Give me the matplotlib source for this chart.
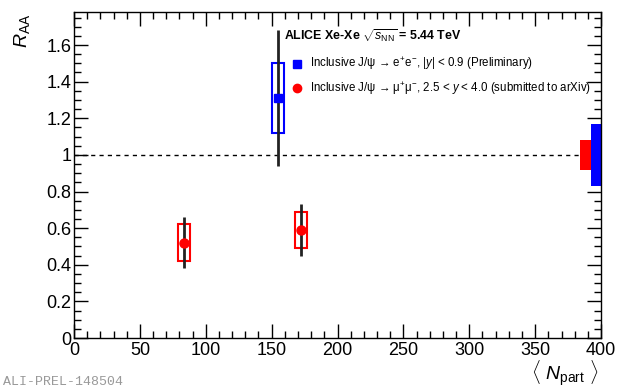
import matplotlib
matplotlib.use("Agg")
import matplotlib.pyplot as plt
from matplotlib.patches import Rectangle
from matplotlib.ticker import MultipleLocator

plt.rcParams['font.family'] = ['Liberation Sans', 'DejaVu Sans']
plt.rcParams['mathtext.fontset'] = 'custom'
plt.rcParams['mathtext.rm'] = 'Liberation Sans'
plt.rcParams['mathtext.it'] = 'Liberation Sans:italic'
plt.rcParams['mathtext.bf'] = 'Liberation Sans:bold'

# Data
ee_npart = [155.0]
ee_raa = [1.31]
ee_stat = [0.37]
ee_sys = [0.19]

mm_npart = [83.5, 172.0]
mm_raa = [0.52, 0.59]
mm_stat = [0.14, 0.14]
mm_sys = [0.10, 0.10]

box_half_width = 4.5
glob_mm = 0.08
glob_ee = 0.17

fig = plt.figure(figsize=(6.2, 3.89), dpi=100)
ax = fig.add_axes([0.1194, 0.131, 0.85, 0.838])
ax.set_xlim(0, 400)
ax.set_ylim(0, 1.78)

ax.axhline(1.0, color='black', ls=(0, (3, 3)), lw=1.0, zorder=1)

# global uncertainty boxes
ax.add_patch(Rectangle((384, 1 - glob_mm), 8.3, 2 * glob_mm, facecolor='red', edgecolor='none', zorder=2))
ax.add_patch(Rectangle((392.3, 1 - glob_ee), 7.7, 2 * glob_ee, facecolor='blue', edgecolor='none', zorder=2))

# systematics boxes
for x, y, s in zip(ee_npart, ee_raa, ee_sys):
    ax.add_patch(Rectangle((x - box_half_width, y - s), 2 * box_half_width, 2 * s,
                           facecolor='none', edgecolor='blue', lw=1.5, zorder=3))
for x, y, s in zip(mm_npart, mm_raa, mm_sys):
    ax.add_patch(Rectangle((x - box_half_width, y - s), 2 * box_half_width, 2 * s,
                           facecolor='none', edgecolor='red', lw=1.5, zorder=3))

ax.errorbar(ee_npart, ee_raa, yerr=ee_stat, fmt='none', ecolor='#222222', elinewidth=2, capsize=0, zorder=4)
ax.errorbar(mm_npart, mm_raa, yerr=mm_stat, fmt='none', ecolor='#222222', elinewidth=2, capsize=0, zorder=4)
ax.plot(ee_npart, ee_raa, 's', color='blue', ms=6, zorder=5)
ax.plot(mm_npart, mm_raa, 'o', color='red', ms=6.5, zorder=5)

# ticks
ax.xaxis.set_major_locator(MultipleLocator(50))
ax.xaxis.set_minor_locator(MultipleLocator(10))
ax.yaxis.set_major_locator(MultipleLocator(0.2))
ax.yaxis.set_minor_locator(MultipleLocator(0.05))
ax.tick_params(which='both', direction='in', top=True, right=True, labelsize=13, width=1)
ax.tick_params(which='major', length=10)
ax.tick_params(which='minor', length=5)
ax.tick_params(axis='x', pad=3)
ax.tick_params(axis='y', pad=2)
ax.set_yticks([0, 0.2, 0.4, 0.6, 0.8, 1.0, 1.2, 1.4, 1.6])
ax.set_yticklabels(['0', '0.2', '0.4', '0.6', '0.8', '1', '1.2', '1.4', '1.6'])
for sp in ax.spines.values():
    sp.set_linewidth(1.0)

fig.text(0.035, 0.965, r'$R_{\mathrm{AA}}$', rotation=90, fontsize=14, ha='center', va='top')
fig.text(0.965, 0.04, r'$\langle\ N_{\mathrm{part}}\ \rangle$', fontsize=14, ha='right', va='center')
fig.text(0.005, 0.018, 'ALI-PREL-148504', family='Liberation Mono', color='#999999', fontsize=9.5, ha='left', va='center')

# legend / header
ax.text(0.398, 0.926, r'ALICE Xe-Xe $\sqrt{s_{\mathrm{NN}}}$ = 5.44 TeV', transform=ax.transAxes,
        fontsize=8.9, fontweight='bold', ha='left', va='center')
ax.plot([0.424], [0.842], 's', color='blue', ms=5.5, transform=ax.transAxes, clip_on=False)
ax.plot([0.424], [0.766], 'o', color='red', ms=6, transform=ax.transAxes, clip_on=False)
ax.text(0.447, 0.842, r'Inclusive J/ψ → e$^{+}$e$^{-}$, |$y$| < 0.9 (Preliminary)', transform=ax.transAxes,
        fontsize=8.3, ha='left', va='center')
ax.text(0.447, 0.766, r'Inclusive J/ψ → μ$^{+}$μ$^{-}$, 2.5 < $y$ < 4.0 (submitted to arXiv)', transform=ax.transAxes,
        fontsize=8.3, ha='left', va='center')

fig.savefig('out.png', dpi=100)
